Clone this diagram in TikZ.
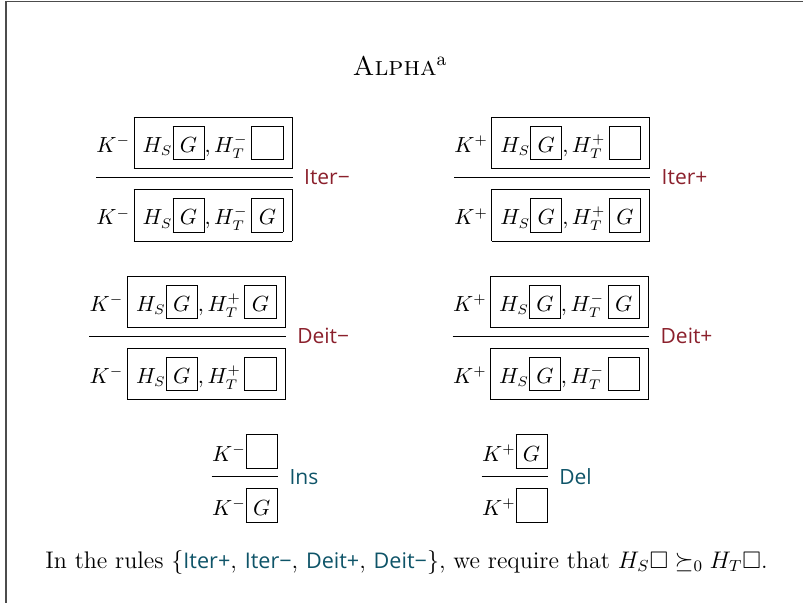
\documentclass[tikz,border=0pt]{standalone}
\usepackage{amsmath,amssymb}
\usepackage{fontspec}
\newfontfamily\rulefont{Open Sans}
\usetikzlibrary{calc,positioning}
\definecolor{rulered}{RGB}{139,32,44}
\definecolor{ruleteal}{RGB}{14,84,104}
\newcommand{\hole}[1]{{\setlength{\fboxsep}{0pt}\framebox[16pt]{\rule[-3.4pt]{0pt}{16.5pt}$#1$}}}
\newcommand{\ctx}[1]{{\setlength{\fboxsep}{4.1pt}\fbox{$#1$}}}
\newcommand{\rn}[1]{{\color{ruleteal}\fontsize{10.8}{13}\rulefont #1}}

\begin{document}
\begin{tikzpicture}[x=0.5pt,y=-0.5pt,
    seq/.style={anchor=base west,inner sep=0pt,font=\fontsize{10.5}{12}\selectfont},
    bar/.style={line width=0.5pt},
    rulename/.style={anchor=west,inner sep=0pt,font=\fontsize{10.5}{12}\rulefont},
    frame/.style={draw=black!70,line width=0.8pt}]
  \useasboundingbox (0,0) rectangle (803,603);
  \draw[frame] (6,640) -- (6,1.5) -- (840,1.5);
  \node[anchor=base] (title) at (400,76) {\fontsize{13.5}{16}\selectfont\textsc{Alpha}\textsuperscript{a}};
  \node[seq] (p1) at (96,152.7) {$K^{-}\,\ctx{H_S\hole{G}, H_T^{-}\,\hole{}}$};
  \node[seq] (c1) at (96,225) {$K^{-}\,\ctx{H_S\hole{G}, H_T^{-}\,\hole{G}}$};
  \node[seq] (p2) at (454,152.7) {$K^{+}\,\ctx{H_S\hole{G}, H_T^{+}\,\hole{}}$};
  \node[seq] (c2) at (454,225) {$K^{+}\,\ctx{H_S\hole{G}, H_T^{+}\,\hole{G}}$};
  \node[seq] (p3) at (89.3,311.7) {$K^{-}\,\ctx{H_S\hole{G}, H_T^{+}\,\hole{G}}$};
  \node[seq] (c3) at (89.3,383.7) {$K^{-}\,\ctx{H_S\hole{G}, H_T^{+}\,\hole{}}$};
  \node[seq] (p4) at (452.7,311.7) {$K^{+}\,\ctx{H_S\hole{G}, H_T^{-}\,\hole{G}}$};
  \node[seq] (c4) at (452.7,383.7) {$K^{+}\,\ctx{H_S\hole{G}, H_T^{-}\,\hole{}}$};
  \node[seq] (p5) at (211.7,461.4) {$K^{-}\hole{}$};
  \node[seq] (c5) at (211.7,515.5) {$K^{-}\hole{G}$};
  \node[seq] (p6) at (481.7,461.4) {$K^{+}\hole{G}$};
  \node[seq] (c6) at (481.7,515.5) {$K^{+}\hole{}$};
  \foreach \p/\c/\lab/\col in {p1/c1/Iter−/rulered,p2/c2/Iter+/rulered,p3/c3/Deit−/rulered,
      p4/c4/Deit+/rulered,p5/c5/Ins/ruleteal,p6/c6/Del/ruleteal}{
    \draw[bar] ($(\p.south west)!.4!(\c.north west)$) -- ($(\p.south east)!.4!(\c.north east)$) coordinate (\p e);
    \node[rulename,text=\col,right=5.5pt of \p e] (\p lab) {\lab};
  }
  \node[anchor=base west,inner sep=0pt,font=\fontsize{12}{14}\selectfont] (note) at (45,568) {In the rules \{\rn{Iter+}, \rn{Iter−}, \rn{Deit+}, \rn{Deit−}\}, we require that $H_S\Box \succeq_0 H_T\Box$.};
\end{tikzpicture}
\end{document}
